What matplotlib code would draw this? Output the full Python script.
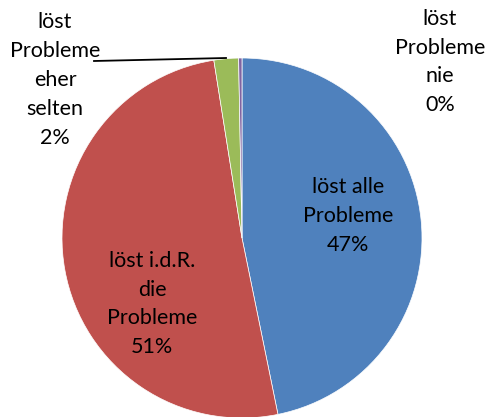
import matplotlib.pyplot as plt

# anteile (gelesen aus dem bild)
labels = ["löst alle\nProbleme", "löst i.d.R.\ndie\nProbleme", "löst\nProbleme\neher\nselten", "löst\nProbleme\nnie"]
values = [46.8, 50.7, 2.2, 0.3]
shown = ["47%", "51%", "2%", "0%"]
colors = ["#4F81BD", "#C0504D", "#9BBB59", "#8064A2"]

W, H = 489, 417
fig = plt.figure(figsize=(W / 100, H / 100), dpi=100)
ax = fig.add_axes([0, 0, 1, 1])

ax.pie(values, colors=colors, startangle=90, counterclock=False,
       center=(242, H - 238), radius=180,
       wedgeprops=dict(linewidth=0.5, edgecolor="white"))
ax.set_xlim(0, W)
ax.set_ylim(0, H)
ax.set_aspect("equal")
ax.axis("off")

font = dict(family=["Lato", "DejaVu Sans"], fontsize=15.5, ha="center", va="center", linespacing=1.55)
pos = [(348, 216), (152, 304), (55, 80), (440, 62)]
for lab, s, (px, py) in zip(labels, shown, pos):
    ax.text(px, H - py, lab + "\n" + s, **font)

# fuehrungslinie zum kleinen segment
ax.plot([94, 226], [H - 61, H - 58], color="black", lw=1.3)

fig.savefig("out.png", dpi=100)
